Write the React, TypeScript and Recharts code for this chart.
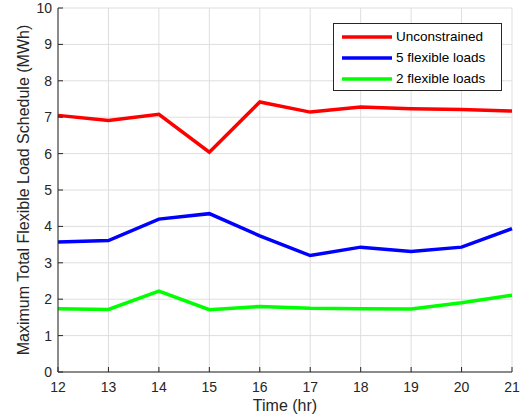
import React from 'react';
import { LineChart, Line, XAxis, YAxis, CartesianGrid, Legend } from 'recharts';

const hours = [12, 13, 14, 15, 16, 17, 18, 19, 20, 21];
const unconstrained = [7.05, 6.91, 7.08, 6.04, 7.42, 7.14, 7.28, 7.23, 7.21, 7.17];
const flex5 = [3.57, 3.61, 4.2, 4.35, 3.74, 3.2, 3.43, 3.31, 3.43, 3.94];
const flex2 = [1.74, 1.72, 2.22, 1.71, 1.8, 1.75, 1.74, 1.73, 1.9, 2.11];
const yTicks = [0, 1, 2, 3, 4, 5, 6, 7, 8, 9, 10];

const seriesNames = ['Unconstrained', '5 flexible loads', '2 flexible loads'];
const seriesColors = ['#ff0000', '#0000ff', '#00ff00'];

const data = hours.map((h, i) => ({
  t: h,
  unc: unconstrained[i],
  f5: flex5[i],
  f2: flex2[i],
}));

const FONT = '"Liberation Sans", Arial, Helvetica, sans-serif';
const AX = '#262626';

const LegendBox = (props: any) => {
  const payload = [...(props.payload || [])].sort(
    (a: any, b: any) => seriesNames.indexOf(a.value) - seriesNames.indexOf(b.value)
  );
  return (
    <div
      style={{
        border: `1px solid ${AX}`,
        background: '#fff',
        paddingTop: 2,
        paddingBottom: 1,
        fontFamily: FONT,
        fontSize: 13.5,
        color: '#000',
        boxSizing: 'border-box',
        width: 169,
      }}
    >
      {payload.map((p: any) => (
        <div key={p.value} style={{ display: 'flex', alignItems: 'center', height: 21 }}>
          <svg width={50} height={4} style={{ marginLeft: 8, marginRight: 4 }}>
            <line x1={0} y1={2} x2={50} y2={2} stroke={p.color} strokeWidth={3.5} />
          </svg>
          <span>{p.value}</span>
        </div>
      ))}
    </div>
  );
};

export default function App() {
  return (
    <div style={{ position: 'absolute', left: 0, top: 0, background: '#fff' }}>
      <LineChart
        width={529}
        height={418}
        data={data}
        margin={{ top: 8, right: 17, bottom: 0, left: 0 }}
        style={{ fontFamily: FONT }}
      >
        <CartesianGrid stroke="#dedede" strokeWidth={1} />
        <XAxis
          dataKey="t"
          type="number"
          domain={[12, 21]}
          ticks={hours}
          height={46}
          stroke={AX}
          tickSize={-5}
          tickMargin={15}
          tick={{ fill: AX, fontSize: 14 }}
          label={{ value: 'Time (hr)', position: 'insideBottom', offset: 7, fill: AX, fontSize: 16 }}
        />
        <XAxis
          xAxisId="top"
          orientation="top"
          dataKey="t"
          type="number"
          domain={[12, 21]}
          ticks={hours}
          height={0}
          stroke={AX}
          tickSize={-5}
          tickFormatter={() => ''}
        />
        <YAxis
          type="number"
          domain={[0, 10]}
          ticks={yTicks}
          width={58}
          stroke={AX}
          tickSize={-5}
          tickMargin={11}
          tick={{ fill: AX, fontSize: 14 }}
          label={{
            value: 'Maximum Total Flexible Load Schedule (MWh)',
            angle: -90,
            position: 'insideLeft',
            offset: 23,
            fill: AX,
            fontSize: 16,
            style: { textAnchor: 'middle' },
          }}
        />
        <YAxis
          yAxisId="right"
          orientation="right"
          type="number"
          domain={[0, 10]}
          ticks={yTicks}
          width={0}
          stroke={AX}
          tickSize={-5}
          tickFormatter={() => ''}
        />
        <Line dataKey="unc" name={seriesNames[0]} stroke={seriesColors[0]} strokeWidth={3.5} dot={false} isAnimationActive={false} />
        <Line dataKey="f5" name={seriesNames[1]} stroke={seriesColors[1]} strokeWidth={3.5} dot={false} isAnimationActive={false} />
        <Line dataKey="f2" name={seriesNames[2]} stroke={seriesColors[2]} strokeWidth={3.5} dot={false} isAnimationActive={false} />
        <Legend
          content={<LegendBox />}
          layout="vertical"
          verticalAlign="middle"
          align="center"
          wrapperStyle={{ left: 333, top: 23, width: 169, right: 'auto', bottom: 'auto' }}
        />
      </LineChart>
    </div>
  );
}
